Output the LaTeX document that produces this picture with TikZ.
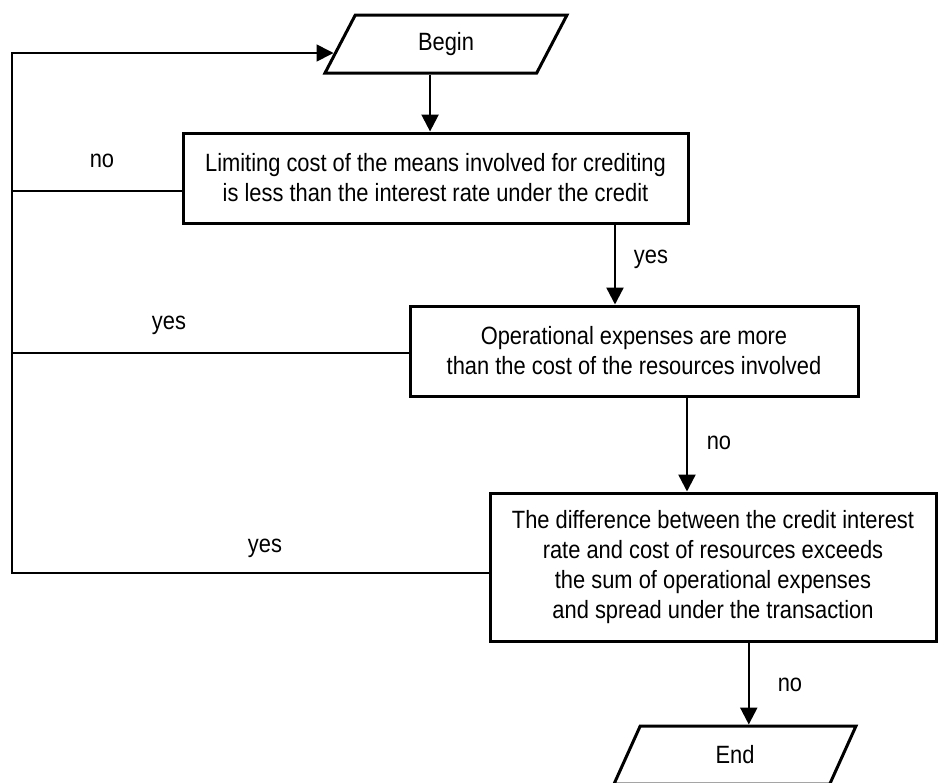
\documentclass[tikz,border=0pt]{standalone}
\usepackage{fontspec}
\setmainfont{Liberation Sans}[FakeStretch=0.875]
\usetikzlibrary{shapes.geometric,arrows.meta,calc}

\tikzset{
  txt/.style={font=\fontsize{12.5}{15}\selectfont},
  block/.style={txt,draw,line width=1.5pt,align=center},
  io/.style={txt,draw,line width=1.5pt,trapezium,trapezium left angle=50.4,
    trapezium right angle=129.6,trapezium stretches body,
    minimum height=29pt,minimum width=121pt},
  flow/.style={-{Triangle[length=8.5pt,width=8.5pt]},line width=1.2pt},
  back/.style={line width=0.8pt},
  lbl/.style={txt,anchor=base,inner sep=0pt}
}

\begin{document}
\begin{tikzpicture}[x=0.5pt,y=-0.5pt]
\useasboundingbox (0,0) rectangle (939,783);

\node[io] (Begin) at (446,44) {Begin};
\node[block,minimum width=252.5pt,minimum height=45pt] (Limit) at (435.5,178)
  {Limiting cost of the means involved for crediting\\is less than the interest rate under the credit};
\node[block,minimum width=224pt,minimum height=45pt] (Expenses) at (634,351)
  {Operational expenses are more\\than the cost of the resources involved};
\node[block,minimum width=223pt,minimum height=74pt] (Spread) at (713,567)
  {The difference between the credit interest\\rate and cost of resources exceeds\\the sum of operational expenses\\and spread under the transaction};
\node[io] (End) at (735,755) {End};

% main line
\draw[flow] (Begin.bottom side) -- (Begin.bottom side |- Limit.north);
\draw[flow] ([xshift=89.75pt]Limit.south) -- ([xshift=89.75pt]Limit.south |- Expenses.north);
\draw[flow] ([xshift=26.5pt]Expenses.south) -- ([xshift=26.5pt]Expenses.south |- Spread.north);
\draw[flow] (Spread.south -| End.top side) -- (End.top side);

% way back to the start
\coordinate (entry) at ($(Begin.bottom left corner)!0.345!(Begin.top left corner)$);
\coordinate (corner) at (12,53);
\draw[flow,back] ([yshift=-3pt]Spread.west) -| (corner) -- (corner -| entry);
\draw[back] ([yshift=-6.5pt]Limit.west) -- ([yshift=-6.5pt]Limit.west -| corner);
\draw[back] ([yshift=-1pt]Expenses.west) -- ([yshift=-1pt]Expenses.west -| corner);

\node[lbl] (l1) at (102,167) {no};
\node[lbl] (l2) at (169,329) {yes};
\node[lbl] (l3) at (265,552) {yes};
\node[lbl] (l4) at (651,263) {yes};
\node[lbl] (l5) at (719,449) {no};
\node[lbl] (l6) at (790,691) {no};
\end{tikzpicture}
\end{document}
